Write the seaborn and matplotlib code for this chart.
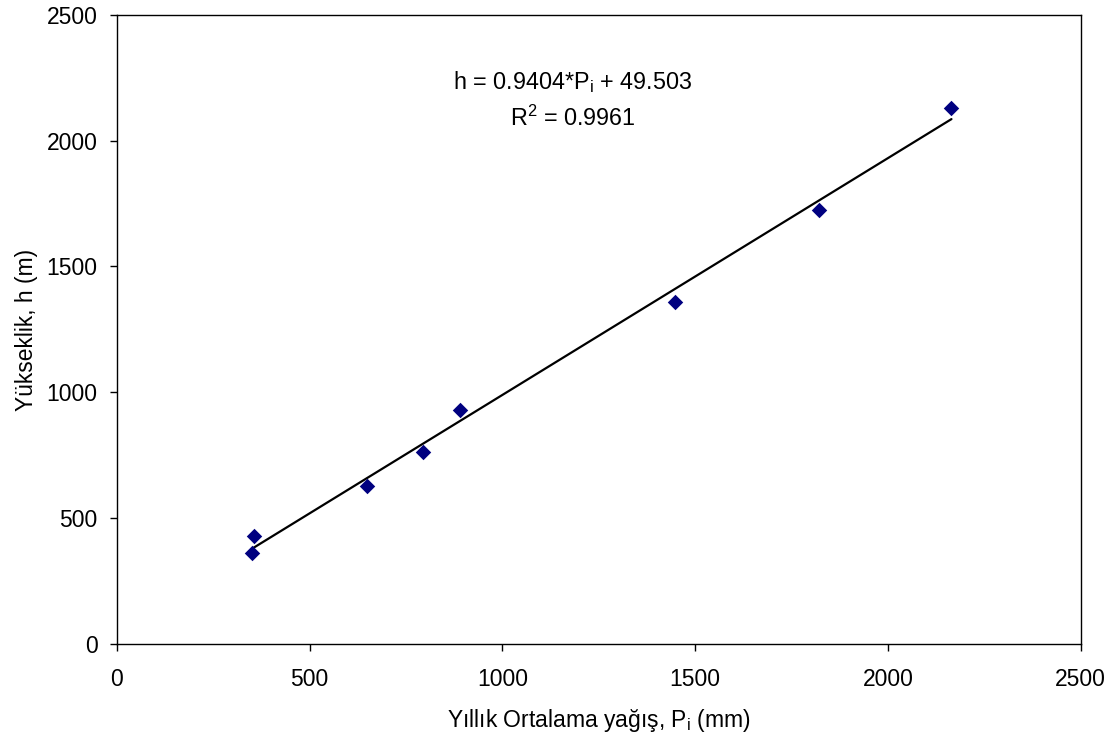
import matplotlib
matplotlib.use("Agg")
import matplotlib.pyplot as plt
import numpy as np
import pandas as pd
import seaborn as sns

# annual mean precipitation (mm) and elevation (m)
precip = [350, 355, 648, 794, 890, 1447, 1821, 2165]
elevation = [362, 429, 628, 763, 930, 1359, 1725, 2130]

# trend line as printed on the chart
slope = 0.9404
intercept = 49.503
r_squared = 0.9961

x_ticks = [0, 500, 1000, 1500, 2000, 2500]
y_ticks = [0, 500, 1000, 1500, 2000, 2500]

sns.set_style("ticks")
plt.rcParams["font.family"] = ["Liberation Sans", "DejaVu Sans"]
plt.rcParams["mathtext.fontset"] = "custom"
plt.rcParams["mathtext.rm"] = "Liberation Sans"
plt.rcParams["mathtext.it"] = "Liberation Sans:italic"
plt.rcParams["text.color"] = "black"
plt.rcParams["axes.labelcolor"] = "black"

df = pd.DataFrame({"P": precip, "h": elevation})
x_fit = np.array([min(precip), max(precip)])
fit = pd.DataFrame({"P": x_fit, "h": slope * x_fit + intercept})

fig = plt.figure(figsize=(11.14, 7.37), dpi=100)
ax = fig.add_axes([0.105, 0.126, 0.865, 0.854])

sns.lineplot(data=fit, x="P", y="h", color="black", linewidth=1.6, ax=ax)
sns.scatterplot(data=df, x="P", y="h", marker="D", s=62, color="#000080",
                edgecolor="#000080", linewidth=0, zorder=3, ax=ax)

ax.set_xlim(0, 2500)
ax.set_ylim(0, 2500)
ax.set_xticks(x_ticks)
ax.set_yticks(y_ticks)
for spine in ax.spines.values():
    spine.set_visible(True)
    spine.set_color("black")
    spine.set_linewidth(1.0)
ax.tick_params(axis="both", direction="out", length=5, width=1,
               labelsize=16.5, colors="black")
ax.tick_params(axis="x", pad=12)
ax.tick_params(axis="y", pad=9)

ax.set_xlabel(r"Yıllık Ortalama yağış, $\mathregular{P_i}$ (mm)",
              fontsize=16.5, labelpad=12)
ax.set_ylabel("Yükseklik, h (m)", fontsize=16.5, labelpad=6)

ax.text(0.473, 0.893, rf"h = {slope}*$\mathregular{{P_i}}$ + {intercept}",
        transform=ax.transAxes, ha="center", va="center", fontsize=16.8)
ax.text(0.473, 0.836, rf"R$^\mathregular{{2}}$ = {r_squared}",
        transform=ax.transAxes, ha="center", va="center", fontsize=16.8)

fig.savefig("out.png", dpi=100, facecolor="white")
plt.close(fig)
